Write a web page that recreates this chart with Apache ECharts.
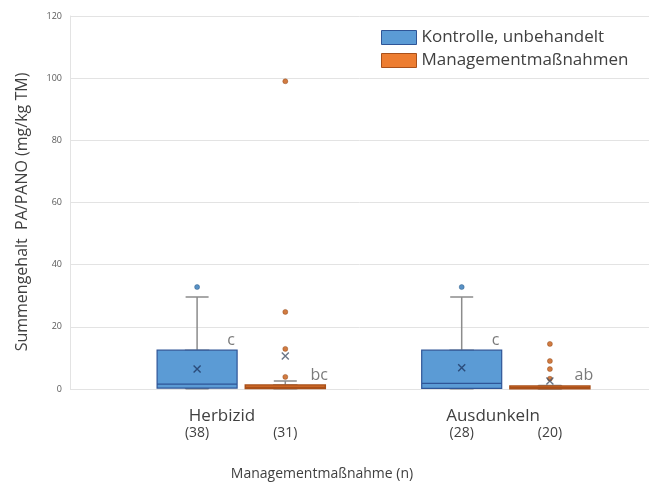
<!DOCTYPE html>
<html>
<head>
<meta charset="utf-8">
<title>Summengehalt PA/PANO</title>
<script src="https://cdn.jsdelivr.net/npm/echarts@6/dist/echarts.min.js"></script>
</head>
<body style="margin:0;background:#fff;">
<div id="main" style="width:649px;height:483px;"></div>
<script type="text/javascript">
var slots = ['(38)', '(31)', '', '(28)', '(20)'];
var groups = ['Herbizid', 'Ausdunkeln'];
var seriesNames = ['Kontrolle, unbehandelt', 'Managementmaßnahmen'];
// min, Q1, median, Q3, max
var kontrolleBox = [[0.1, 0.3, 1.6, 12.5, 29.6], [0.1, 0.2, 1.8, 12.5, 29.6]];
var managementBox = [[0.1, 0.2, 0.6, 1.3, 2.6], [0, 0.1, 0.4, 1.0, 1.1]];
var kontrolleMean = [6.4, 6.8];
var managementMean = [10.6, 2.6];
var kontrolleOutliers = [[32.8], [32.8]];
var managementOutliers = [[3.9, 12.9, 24.8, 99], [3.3, 6.4, 9.0, 14.5]];
var kontrolleLetters = ['c', 'c'];
var managementLetters = ['bc', 'ab'];
var kontrolleSlot = [0, 3];
var managementSlot = [1, 4];

var font = 'Open Sans';
var textColor = '#404040';
var blue = '#5B9BD5', blueDark = '#2F5597';
var orange = '#ED7D31', orangeDark = '#A9501A';

// whiskers (full range) and the box alone (whiskers collapsed onto Q1/Q3)
function whiskerData(box, slot) {
    return box.map(function (b, i) { return [slot[i]].concat(b); });
}
function bodyData(box, slot) {
    return box.map(function (b, i) { return [slot[i], b[1], b[1], b[2], b[3], b[3]]; });
}
function pointData(values, slot) {
    var out = [];
    values.forEach(function (list, i) {
        list.forEach(function (v) { out.push([slot[i], v]); });
    });
    return out;
}
function meanData(means, slot) {
    return means.map(function (m, i) { return [slot[i], m]; });
}
function letterData(letters, box, slot) {
    return letters.map(function (t, i) { return { name: t, value: [slot[i], box[i][3]] }; });
}

var cross = 'path://M0,0L10,10M10,0L0,10';
var boxEncode = { x: 0, y: [1, 2, 3, 4, 5] };

var myChart = echarts.init(document.getElementById('main'));
myChart.setOption({
    animation: false,
    textStyle: { fontFamily: font },
    grid: [
        { left: 70, right: 0, top: 16, bottom: 94 },
        { left: 153, right: 55, top: 16, bottom: 94 }
    ],
    legend: {
        orient: 'vertical',
        left: 376,
        top: 24,
        itemWidth: 35,
        itemHeight: 14,
        itemGap: 6,
        icon: 'rect',
        textStyle: { fontFamily: font, fontSize: 17, color: textColor },
        data: [
            { name: seriesNames[0], itemStyle: { color: blue, borderColor: blueDark, borderWidth: 1 } },
            { name: seriesNames[1], itemStyle: { color: orange, borderColor: orangeDark, borderWidth: 1 } }
        ]
    },
    xAxis: [
        { gridIndex: 0, type: 'value', show: false },
        {
            gridIndex: 1, type: 'category', data: slots,
            axisLine: { show: false }, axisTick: { show: false },
            axisLabel: { margin: 37, fontSize: 14, color: textColor, fontFamily: font }
        },
        { gridIndex: 1, type: 'category', data: slots, show: false },
        { gridIndex: 1, type: 'category', data: slots, show: false }
    ],
    yAxis: [
        {
            gridIndex: 0, type: 'value', min: 0, max: 120, interval: 20,
            axisLine: { show: true, lineStyle: { color: '#E3E3E3' } },
            axisTick: { show: false },
            axisLabel: { fontSize: 9, color: '#595959', margin: 8 },
            splitLine: { lineStyle: { color: '#E3E3E3', width: 1 } }
        },
        { gridIndex: 1, type: 'value', min: 0, max: 120, show: false }
    ],
    graphic: [
        { type: 'text', x: 222, y: 416, style: { text: groups[0], font: '17px "' + font + '"', fill: textColor, textAlign: 'center', textVerticalAlign: 'middle' } },
        { type: 'text', x: 493, y: 416, style: { text: groups[1], font: '17px "' + font + '"', fill: textColor, textAlign: 'center', textVerticalAlign: 'middle' } },
        { type: 'text', x: 322, y: 474, style: { text: 'Managementmaßnahme (n)', font: '14px "' + font + '"', fill: textColor, textAlign: 'center', textVerticalAlign: 'middle' } },
        { type: 'text', x: 22, y: 212, rotation: Math.PI / 2, style: { text: 'Summengehalt  PA/PANO (mg/kg TM)', font: '16px "' + font + '"', fill: textColor, textAlign: 'center', textVerticalAlign: 'middle' } }
    ],
    series: [
        {
            type: 'boxplot', xAxisIndex: 1, yAxisIndex: 1, z: 2,
            boxWidth: [23, 23], encode: boxEncode, silent: true,
            itemStyle: { color: 'transparent', borderColor: '#8C8C8C', borderWidth: 1.5 },
            data: whiskerData(kontrolleBox, kontrolleSlot).concat(whiskerData(managementBox, managementSlot))
        },
        {
            name: seriesNames[0], type: 'boxplot', xAxisIndex: 2, yAxisIndex: 1, z: 3,
            boxWidth: [80, 80], encode: boxEncode, silent: true,
            itemStyle: { color: blue, borderColor: blueDark, borderWidth: 1.2 },
            data: bodyData(kontrolleBox, kontrolleSlot)
        },
        {
            name: seriesNames[1], type: 'boxplot', xAxisIndex: 3, yAxisIndex: 1, z: 3,
            boxWidth: [80, 80], encode: boxEncode, silent: true,
            itemStyle: { color: orange, borderColor: orangeDark, borderWidth: 1.5 },
            data: bodyData(managementBox, managementSlot)
        },
        {
            type: 'scatter', xAxisIndex: 1, yAxisIndex: 1, z: 4, symbolSize: 5, silent: true,
            itemStyle: { color: '#2E75B6', borderColor: '#1F4E79', borderWidth: 0.5 },
            data: pointData(kontrolleOutliers, kontrolleSlot)
        },
        {
            type: 'scatter', xAxisIndex: 1, yAxisIndex: 1, z: 4, symbolSize: 5, silent: true,
            itemStyle: { color: '#C55A11', borderColor: '#843C0C', borderWidth: 0.5 },
            data: pointData(managementOutliers, managementSlot)
        },
        {
            type: 'scatter', xAxisIndex: 1, yAxisIndex: 1, z: 5, symbol: cross, symbolSize: 7, silent: true,
            itemStyle: { color: 'transparent', borderColor: '#1F3864', borderWidth: 1.4 },
            data: meanData(kontrolleMean, kontrolleSlot)
        },
        {
            type: 'scatter', xAxisIndex: 1, yAxisIndex: 1, z: 5, symbol: cross, symbolSize: 7, silent: true,
            itemStyle: { color: 'transparent', borderColor: '#44546A', borderWidth: 1.4 },
            data: meanData(managementMean, managementSlot)
        },
        {
            type: 'scatter', xAxisIndex: 1, yAxisIndex: 1, z: 5, symbolSize: 0, silent: true,
            label: { show: true, position: 'inside', offset: [34, -10], formatter: '{b}', fontSize: 16, color: '#595959', fontFamily: font },
            data: letterData(kontrolleLetters, kontrolleBox, kontrolleSlot).concat(letterData(managementLetters, managementBox, managementSlot))
        }
    ]
});
</script>
</body>
</html>
